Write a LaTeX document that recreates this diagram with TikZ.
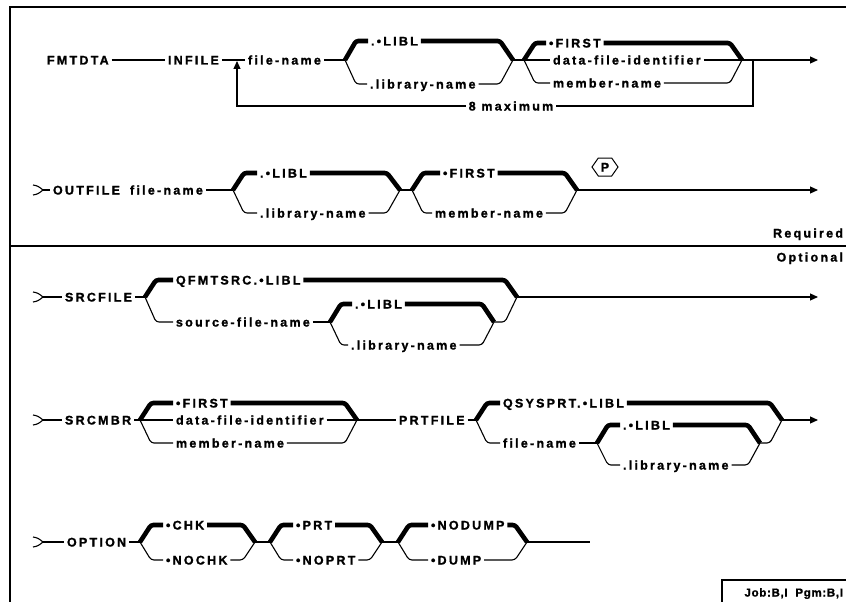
\documentclass[tikz,border=0pt]{standalone}
\usepackage{fontspec}
\newfontfamily\synfont{Liberation Sans}[LetterSpace=18, BoldFeatures={FakeBold=1.3}]
\usepackage{tikz}
\usetikzlibrary{arrows.meta,shapes.symbols}
\tikzset{
    kw/.style={
        inner sep=0pt,
        outer sep=3pt,
        anchor=west,
        text height=9pt,
        text depth=0pt,
        font=\synfont\bfseries\fontsize{12.5pt}{14pt}\selectfont
    },
    rail/.style={line width=1.1pt},
    branch/.style={rail, rounded corners=3pt},
    heavy/.style={line width=4.6pt, rounded corners=2.5pt},
    flow/.style={rail, -{Triangle[length=8pt,width=7pt]}},
    frame/.style={line width=1.6pt},
    ptag/.style={
        kw, anchor=center, draw, line width=1pt, shape=signal,
        signal to=west and east, signal pointer angle=110,
        minimum width=26pt, minimum height=18pt, inner sep=1.5pt
    },
    entry/.pic={
        \draw[rail] (-10,-5) .. controls (-5,-4) .. (0,0)
                             .. controls (-5,4) .. (-10,5);
    }
}

\begin{document}
\begin{tikzpicture}[x=1pt, y=-1pt]
    \useasboundingbox (0,0) rectangle (846,602);

    % frame
    \draw[frame] (10,602) -- (10,7) -- (846,7);
    \draw[frame] (10,246) -- (846,246);
    \node[kw, anchor=east] (req) at (846,233) {Required};
    \node[kw, anchor=east] (opt) at (846,257) {Optional};
    \draw[rail] (722,602) -- (722,580) -- (846,580);
    \node[kw, anchor=east, font=\synfont\bfseries\fontsize{11.5pt}{13pt}\selectfont\addfontfeature{LetterSpace=6}]
        (jobinfo) at (846,592) {Job:B,I\ \ Pgm:B,I};

    % FMTDTA INFILE
    \node[kw] (fmtdta) at (44,60) {FMTDTA};
    \node[kw] (infile) at (165,60) {INFILE};
    \node[kw] (fname1) at (245,60) {file-name};
    \coordinate (a1) at (345,60);
    \node[kw] (libl1) at (368,41) {.•LIBL};
    \node[kw] (libn1) at (367,84) {.library-name};
    \coordinate (a2) at (513,60);
    \coordinate (b1) at (524,60);
    \node[kw] (first1) at (546,43) {•FIRST};
    \node[kw] (dfid1) at (550,60) {data-file-identifier};
    \node[kw] (mbr1) at (550,83) {member-name};
    \coordinate (b2) at (742,60);
    \coordinate (loop1) at (753,60);
    \coordinate (end1) at (818,60);
    \coordinate (back1) at (237,61);
    \node[kw, anchor=center] (max1) at (511,106) {8 maximum};

    \draw[rail] (fmtdta) -- (infile);
    \draw[rail] (infile) -- (fname1);
    \draw[rail] (fname1) -- (a1);
    \draw[heavy] (a1) -- ++(11,-19) -- (libl1.west);
    \draw[branch] (a1) -- ++(11,24) -- (libn1.west);
    \draw[heavy] (libl1.east) -- ([shift={(-13,-19)}]a2) -- (a2);
    \draw[branch] (libn1.east) -- ([shift={(-13,24)}]a2) -- (a2);
    \draw[rail] (a2) -- (b1);
    \draw[heavy] (b1) -- ++(11,-17) -- (first1.west);
    \draw[rail] (b1) -- (dfid1.west);
    \draw[branch] (b1) -- ++(11,23) -- (mbr1.west);
    \draw[heavy] (first1.east) -- ([shift={(-12,-17)}]b2) -- (b2);
    \draw[rail] (dfid1.east) -- (b2);
    \draw[branch] (mbr1.east) -- ([shift={(-12,23)}]b2) -- (b2);
    \draw[flow] (b2) -- (end1);
    \draw[rail] (loop1) |- (max1.east);
    \draw[flow] (max1.west) -| (back1);

    % OUTFILE
    \coordinate (s2) at (43,190);
    \node[kw] (outfile) at (50,190) {OUTFILE};
    \node[kw] (fname2) at (127,190) {file-name};
    \coordinate (c1) at (233,190);
    \node[kw] (libl2) at (257,173) {.•LIBL};
    \node[kw] (libn2) at (257,213) {.library-name};
    \coordinate (c2) at (400,190);
    \coordinate (d1) at (412,190);
    \node[kw] (first2) at (440,173) {•FIRST};
    \node[kw] (mbr2) at (432,213) {member-name};
    \coordinate (d2) at (577,190);
    \node[ptag] (pkey) at (605,167) {P};
    \coordinate (end2) at (818,190);

    \pic at (s2) {entry};
    \draw[rail] (s2) -- (outfile);
    \draw[rail] (fname2) -- (c1);
    \draw[heavy] (c1) -- ++(11,-17) -- (libl2.west);
    \draw[branch] (c1) -- ++(11,23) -- (libn2.west);
    \draw[heavy] (libl2.east) -- ([shift={(-13,-17)}]c2) -- (c2);
    \draw[branch] (libn2.east) -- ([shift={(-13,23)}]c2) -- (c2);
    \draw[rail] (c2) -- (d1);
    \draw[heavy] (d1) -- ++(11,-17) -- (first2.west);
    \draw[branch] (d1) -- ++(11,23) -- (mbr2.west);
    \draw[heavy] (first2.east) -- ([shift={(-12,-17)}]d2) -- (d2);
    \draw[branch] (mbr2.east) -- ([shift={(-12,23)}]d2) -- (d2);
    \draw[flow] (d2) -- (end2);

    % SRCFILE
    \coordinate (s3) at (43,297);
    \node[kw] (srcfile) at (62,297) {SRCFILE};
    \coordinate (e1) at (145,297);
    \node[kw] (qfmt) at (173,280) {QFMTSRC.•LIBL};
    \node[kw] (srcname) at (173,322) {source-file-name};
    \coordinate (f1) at (330,322);
    \node[kw] (libl3) at (352,304) {.•LIBL};
    \node[kw] (libn3) at (348,345) {.library-name};
    \coordinate (f2) at (494,322);
    \coordinate (e2) at (517,297);
    \coordinate (end3) at (818,297);

    \pic at (s3) {entry};
    \draw[rail] (s3) -- (srcfile);
    \draw[rail] (srcfile) -- (e1);
    \draw[heavy] (e1) -- ++(11,-17) -- (qfmt.west);
    \draw[branch] (e1) -- ++(11,25) -- (srcname.west);
    \draw[heavy] (qfmt.east) -- ([shift={(-12,-17)}]e2) -- (e2);
    \draw[rail] (srcname) -- (f1);
    \draw[heavy] (f1) -- ++(11,-18) -- (libl3.west);
    \draw[branch] (f1) -- ++(11,23) -- (libn3.west);
    \draw[heavy] (libl3.east) -- ([shift={(-12,-18)}]f2) -- (f2);
    \draw[branch] (libn3.east) -- ([shift={(-12,23)}]f2) -- (f2);
    \draw[branch] (f2) -- ([shift={(-12,25)}]e2) -- (e2);
    \draw[flow] (e2) -- (end3);

    % SRCMBR PRTFILE
    \coordinate (s4) at (43,420);
    \node[kw] (srcmbr) at (62,420) {SRCMBR};
    \coordinate (g1) at (140,420);
    \node[kw] (first4) at (173,403) {•FIRST};
    \node[kw] (dfid4) at (173,420) {data-file-identifier};
    \node[kw] (mbr4) at (173,443) {member-name};
    \coordinate (g2) at (357,420);
    \node[kw] (prtfile) at (396,420) {PRTFILE};
    \coordinate (h1) at (476,420);
    \node[kw] (qsys) at (500,403) {QSYSPRT.•LIBL};
    \node[kw] (fname4) at (500,443) {file-name};
    \coordinate (k1) at (597,443);
    \node[kw] (libl4) at (620,425) {.•LIBL};
    \node[kw] (libn4) at (620,465) {.library-name};
    \coordinate (k2) at (760,443);
    \coordinate (h2) at (782,420);
    \coordinate (end4) at (818,420);

    \pic at (s4) {entry};
    \draw[rail] (s4) -- (srcmbr);
    \draw[rail] (srcmbr) -- (g1);
    \draw[heavy] (g1) -- ++(11,-17) -- (first4.west);
    \draw[rail] (g1) -- (dfid4.west);
    \draw[branch] (g1) -- ++(11,23) -- (mbr4.west);
    \draw[heavy] (first4.east) -- ([shift={(-12,-17)}]g2) -- (g2);
    \draw[rail] (dfid4.east) -- (g2);
    \draw[branch] (mbr4.east) -- ([shift={(-12,23)}]g2) -- (g2);
    \draw[rail] (g2) -- (prtfile);
    \draw[rail] (prtfile) -- (h1);
    \draw[heavy] (h1) -- ++(11,-17) -- (qsys.west);
    \draw[branch] (h1) -- ++(11,23) -- (fname4.west);
    \draw[heavy] (qsys.east) -- ([shift={(-12,-17)}]h2) -- (h2);
    \draw[rail] (fname4) -- (k1);
    \draw[heavy] (k1) -- ++(11,-18) -- (libl4.west);
    \draw[branch] (k1) -- ++(11,22) -- (libn4.west);
    \draw[heavy] (libl4.east) -- ([shift={(-12,-18)}]k2) -- (k2);
    \draw[branch] (libn4.east) -- ([shift={(-12,22)}]k2) -- (k2);
    \draw[branch] (k2) -- ([shift={(-12,23)}]h2) -- (h2);
    \draw[flow] (h2) -- (end4);

    % OPTION
    \coordinate (s5) at (43,542);
    \node[kw] (option) at (64,542) {OPTION};
    \coordinate (m1) at (140,542);
    \node[kw] (chk) at (163,525) {•CHK};
    \node[kw] (nochk) at (163,560) {•NOCHK};
    \coordinate (m2) at (255,542);
    \coordinate (n1) at (270,542);
    \node[kw] (prt) at (293,525) {•PRT};
    \node[kw] (noprt) at (293,560) {•NOPRT};
    \coordinate (n2) at (382,542);
    \coordinate (p1) at (398,542);
    \node[kw] (nodump) at (428,525) {•NODUMP};
    \node[kw] (dump) at (428,560) {•DUMP};
    \coordinate (p2) at (527,542);
    \coordinate (end5) at (590,542);

    \pic at (s5) {entry};
    \draw[rail] (s5) -- (option);
    \draw[rail] (option) -- (m1);
    \draw[heavy] (m1) -- ++(11,-17) -- (chk.west);
    \draw[branch] (m1) -- ++(11,18) -- (nochk.west);
    \draw[heavy] (chk.east) -- ([shift={(-12,-17)}]m2) -- (m2);
    \draw[branch] (nochk.east) -- ([shift={(-12,18)}]m2) -- (m2);
    \draw[rail] (m2) -- (n1);
    \draw[heavy] (n1) -- ++(11,-17) -- (prt.west);
    \draw[branch] (n1) -- ++(11,18) -- (noprt.west);
    \draw[heavy] (prt.east) -- ([shift={(-12,-17)}]n2) -- (n2);
    \draw[branch] (noprt.east) -- ([shift={(-12,18)}]n2) -- (n2);
    \draw[rail] (n2) -- (p1);
    \draw[heavy] (p1) -- ++(11,-17) -- (nodump.west);
    \draw[branch] (p1) -- ++(11,18) -- (dump.west);
    \draw[heavy] (nodump.east) -- ([shift={(-12,-17)}]p2) -- (p2);
    \draw[branch] (dump.east) -- ([shift={(-12,18)}]p2) -- (p2);
    \draw[rail] (p2) -- (end5);
\end{tikzpicture}
\end{document}
